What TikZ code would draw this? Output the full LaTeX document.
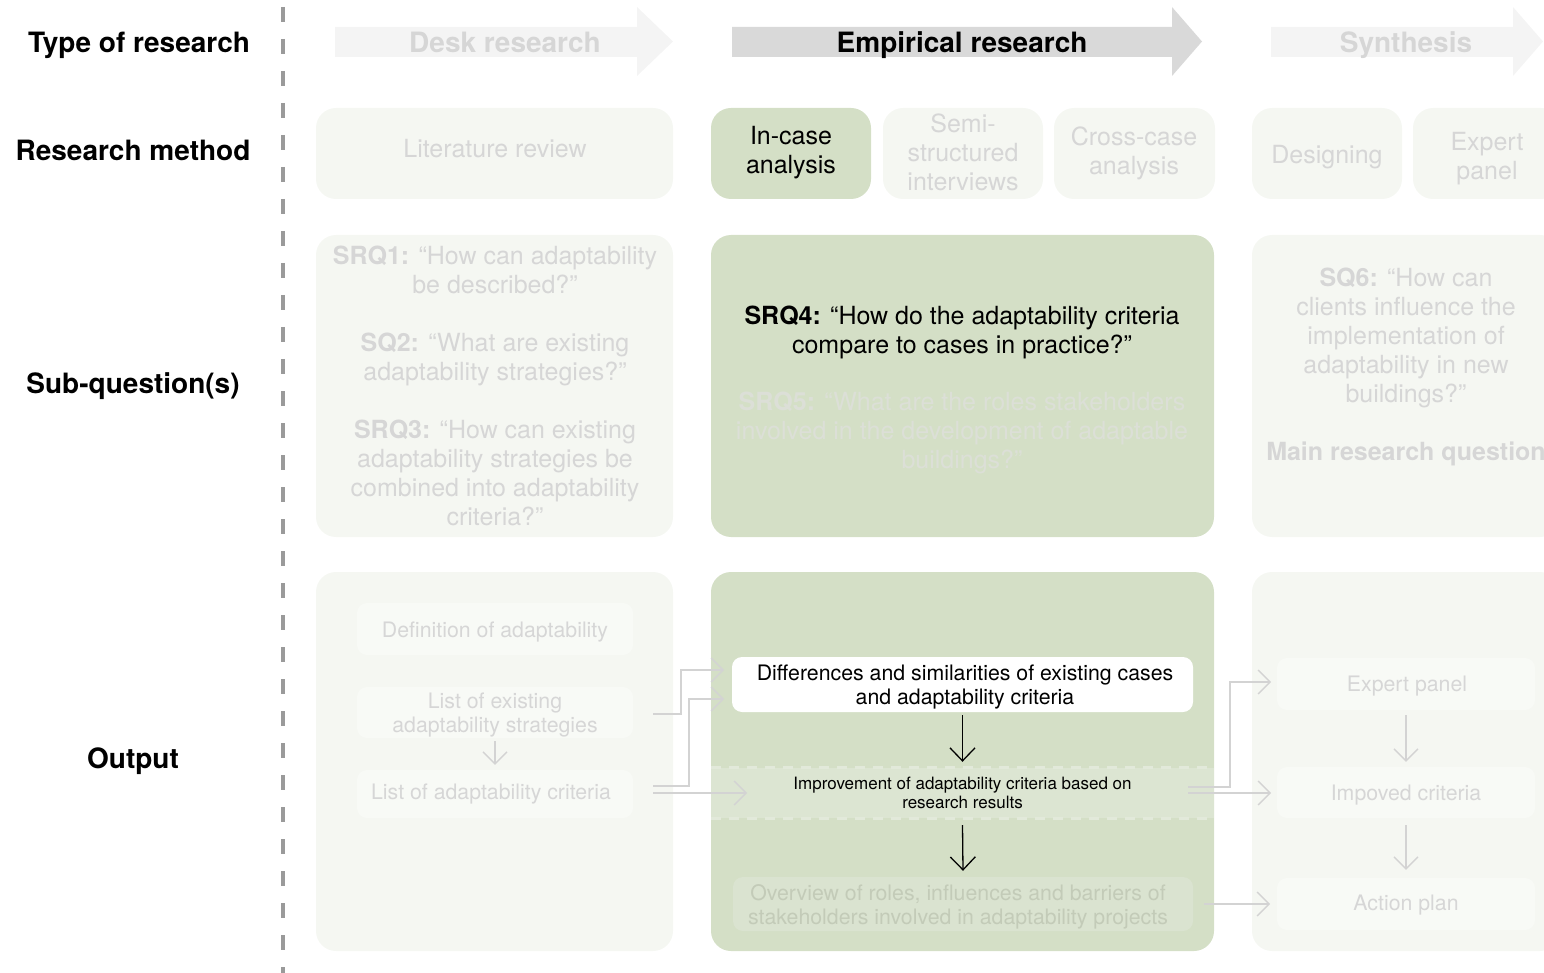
\documentclass[tikz,border=0pt]{standalone}
\usepackage{fontspec}
\setmainfont{TeX Gyre Heros}
\usetikzlibrary{arrows.meta}

\definecolor{paleFill}{HTML}{F5F7F2}
\definecolor{paleInner}{HTML}{F8FAF6}
\definecolor{sageFill}{HTML}{D4DFC6}
\definecolor{bandFill}{HTML}{DCE5D2}
\definecolor{bandEdge}{HTML}{E2E9DA}
\definecolor{overFill}{HTML}{DAE3D0}
\definecolor{overText}{HTML}{C3CBB8}
\definecolor{ghost}{HTML}{D6D6D6}
\definecolor{ghostSage}{HTML}{DCDFD7}
\definecolor{linkGray}{HTML}{D3D3D3}
\definecolor{arrowPale}{HTML}{F4F4F4}
\definecolor{arrowMid}{HTML}{D9D9D9}
\definecolor{dividerGray}{HTML}{9A9A9A}

\newcommand\txtBody{\fontsize{25}{29}\selectfont}
\newcommand\txtHead{\fontsize{28}{32}\selectfont\bfseries}
\newcommand\txtOut{\fontsize{21.3}{24}\selectfont}
\newcommand\txtSmall{\fontsize{17}{19.5}\selectfont}

\begin{document}
\begin{tikzpicture}[x=1pt,y=-1pt,
  panel/.style={rectangle, rounded corners=20pt, inner sep=0pt, draw=none},
  pale/.style={panel, fill=paleFill},
  sage/.style={panel, fill=sageFill},
  innerbox/.style={rectangle, rounded corners=10pt, inner sep=0pt},
  txt/.style={inner sep=0pt, align=center, font=\txtBody},
  outtxt/.style={inner sep=0pt, align=center, font=\txtOut},
  rowlabel/.style={inner sep=0pt, font=\txtHead},
  phase/.style={inner sep=0pt, font=\txtHead},
  link/.style={draw=linkGray, line width=1.3pt, -{Straight Barb[length=12pt,width=24pt]}},
  dark/.style={draw=black, line width=1.3pt, -{Straight Barb[length=13pt,width=25pt]}},
  divider/.style={draw=dividerGray, line width=4pt, dash pattern=on 15pt off 17pt},
  bandline/.style={draw=bandEdge, line width=3pt, dash pattern=on 10pt off 8pt}
]
\useasboundingbox (0,0) rectangle (1544,973);
\clip (0,0) rectangle (1544,973);

% ---- dashed divider between the row labels and the columns
\coordinate (divTop) at (283,7);
\coordinate (divBot) at (283,973);
\draw[divider] (divTop) -- (divBot);

% ---- row labels
\node[rowlabel] (lblType)   at (139,45)  {Type of research};
\node[rowlabel] (lblMethod) at (133,150) {Research method};
\node[rowlabel] (lblSub)    at (133,386) {Sub-question(s)};
\node[rowlabel] (lblOut)    at (133,761) {Output};

% ---- phase arrows
\fill[arrowPale] (335,27) -- (637,27) -- (637,7) -- (673,41.5) -- (637,76) -- (637,57) -- (335,57) -- cycle;
\fill[arrowMid] (732,27) -- (1172,27) -- (1172,7) -- (1202,41.5) -- (1172,76) -- (1172,57) -- (732,57) -- cycle;
\fill[arrowPale] (1271,27) -- (1513,27) -- (1513,7) -- (1543,41.5) -- (1513,76) -- (1513,57) -- (1271,57) -- cycle;
\node[phase, text=ghost] (deskLbl) at (505,42)  {Desk research};
\node[phase, text=black] (empLbl)  at (962,45)  {Empirical research};
\node[phase, text=ghost] (synLbl)  at (1406,45) {Synthesis};

% ---- research methods
\node[pale, minimum width=357pt, minimum height=91pt] (litBox)   at (494.5,153.5) {};
\node[sage, minimum width=160pt, minimum height=91pt] (inBox)    at (791,153.5)   {};
\node[pale, minimum width=160pt, minimum height=91pt] (semiBox)  at (963,153.5)   {};
\node[pale, minimum width=161pt, minimum height=91pt] (crossBox) at (1134.5,153.5){};
\node[pale, minimum width=150pt, minimum height=91pt] (desBox)   at (1327,153.5)  {};
\node[pale, minimum width=148pt, minimum height=91pt] (expMBox)  at (1487,153.5)  {};
\node[txt, text=ghost] (litTxt)   at (495,149)   {Literature review};
\node[txt, text=black] (inTxt)    at (791,152.5) {In-case\\analysis};
\node[txt, text=ghost] (semiTxt)  at (963,152)   {Semi-\\structured\\interviews};
\node[txt, text=ghost] (crossTxt) at (1134,153.5){Cross-case\\analysis};
\node[txt, text=ghost] (desTxt)   at (1327,157)  {Designing};
\node[txt, text=ghost] (expMTxt)  at (1487,158.5){Expert\\panel};

% ---- sub-questions
\node[pale, minimum width=357pt, minimum height=302pt] (sqLeft)  at (494.5,386) {};
\node[sage, minimum width=503pt, minimum height=302pt] (sqMid)   at (962.5,386) {};
\node[pale, minimum width=308pt, minimum height=302pt] (sqRight) at (1406,386)  {};
\node[txt, text=ghost] (sqLeftTxt) at (495,386)
  {{\bfseries SRQ1:} “How can adaptability\\be described?”\\[29pt]
   {\bfseries SQ2:} “What are existing\\adaptability strategies?”\\[29pt]
   {\bfseries SRQ3:} “How can existing\\adaptability strategies be\\combined into adaptability\\criteria?”};
\node[txt, text=black] (srq4Txt) at (962,332.5)
  {{\bfseries SRQ4:} “How do the adaptability criteria\\compare to cases in practice?”};
\node[txt, text=ghostSage] (srq5Txt) at (962,432.5)
  {{\bfseries SRQ5:} “What are the roles stakeholders\\involved in the development of adaptable\\buildings?”};
\node[txt, text=ghost] (sq6Txt) at (1406,338)
  {{\bfseries SQ6:} “How can\\clients influence the\\implementation of\\adaptability in new\\buildings?”};
\node[txt, text=ghost, font=\txtBody\bfseries] (mainTxt) at (1406,454) {Main research question};

% ---- outputs
\node[pale, minimum width=357pt, minimum height=379pt] (outLeft)  at (494.5,761.5) {};
\node[sage, minimum width=503pt, minimum height=379pt] (outMid)   at (962.5,761.5) {};
\node[pale, minimum width=308pt, minimum height=379pt] (outRight) at (1406,761.5)  {};

% desk research outputs
\node[innerbox, fill=paleInner, minimum width=276pt, minimum height=52pt] (defBox)  at (495,629)   {};
\node[innerbox, fill=paleInner, minimum width=276pt, minimum height=51pt] (strBox)  at (495,712.5) {};
\node[innerbox, fill=paleInner, minimum width=276pt, minimum height=48pt] (critBox) at (495,794)   {};
\node[outtxt, text=ghost] (defTxt)  at (495,632)   {Definition of adaptability};
\node[outtxt, text=ghost] (strTxt)  at (495,715)   {List of existing\\adaptability strategies};
\node[outtxt, text=ghost] (critTxt) at (491,794)   {List of adaptability criteria};
\draw[link] ([yshift=-3pt]strBox.south) -- ([yshift=5pt]critBox.north);

% empirical research outputs
\node[rectangle, inner sep=0pt, fill=bandFill, minimum width=503pt, minimum height=50pt,
      align=center, font=\txtSmall, text=black] (imprBand) at (962.5,793)
  {Improvement of adaptability criteria based on\\research results};
\draw[bandline] (imprBand.north west) -- (imprBand.north east);
\draw[bandline] (imprBand.south west) -- (imprBand.south east);
\node[innerbox, fill=white, minimum width=461pt, minimum height=55pt] (diffBox) at (962.5,684.5) {};
\node[outtxt, text=black] (diffTxt) at (965,687.5)
  {Differences and similarities of existing cases\\and adaptability criteria};
\node[innerbox, fill=overFill, minimum width=460pt, minimum height=54pt] (overBox) at (963,904) {};
\node[outtxt, text=overText] (overTxt) at (958,907)
  {Overview of roles, influences and barriers of\\stakeholders involved in adaptability projects};
\draw[dark] ([yshift=-3pt]diffBox.south) -- ([yshift=6pt]imprBand.north);
\draw[dark] ([yshift=-7pt]imprBand.south) -- ([yshift=6pt]overBox.north);

% synthesis outputs
\node[innerbox, fill=paleInner, minimum width=258pt, minimum height=52pt] (expBox) at (1406,684)   {};
\node[innerbox, fill=paleInner, minimum width=258pt, minimum height=51pt] (impBox) at (1406,792.5) {};
\node[innerbox, fill=paleInner, minimum width=258pt, minimum height=52pt] (actBox) at (1406,904)   {};
\node[outtxt, text=ghost] (expTxt) at (1407,686) {Expert panel};
\node[outtxt, text=ghost] (impTxt) at (1406,795) {Impoved criteria};
\node[outtxt, text=ghost] (actTxt) at (1406,905) {Action plan};
\draw[link] ([yshift=-5pt]expBox.south) -- ([yshift=5pt]impBox.north);
\draw[link] ([yshift=-7pt]impBox.south) -- ([yshift=8pt]actBox.north);

% ---- links between the columns
\coordinate (lA) at (653,714);  \coordinate (lAe) at (724,670);
\coordinate (lB) at (653,786);  \coordinate (lBe) at (724,699);
\coordinate (lC) at (653,793);  \coordinate (lCe) at (747,793);
\draw[link] (lA) -- ++(28,0) |- (lAe);
\draw[link] (lB) -- ++(36,0) |- (lBe);
\draw[link] (lC) -- (lCe);

\coordinate (rA) at (1188,787); \coordinate (rAe) at (1271,682);
\coordinate (rB) at (1188,793); \coordinate (rBe) at (1271,793);
\coordinate (rC) at (1204,904); \coordinate (rCe) at (1270,904);
\draw[link] (rA) -- ++(42,0) |- (rAe);
\draw[link] (rB) -- (rBe);
\draw[link] (rC) -- (rCe);
\end{tikzpicture}
\end{document}
